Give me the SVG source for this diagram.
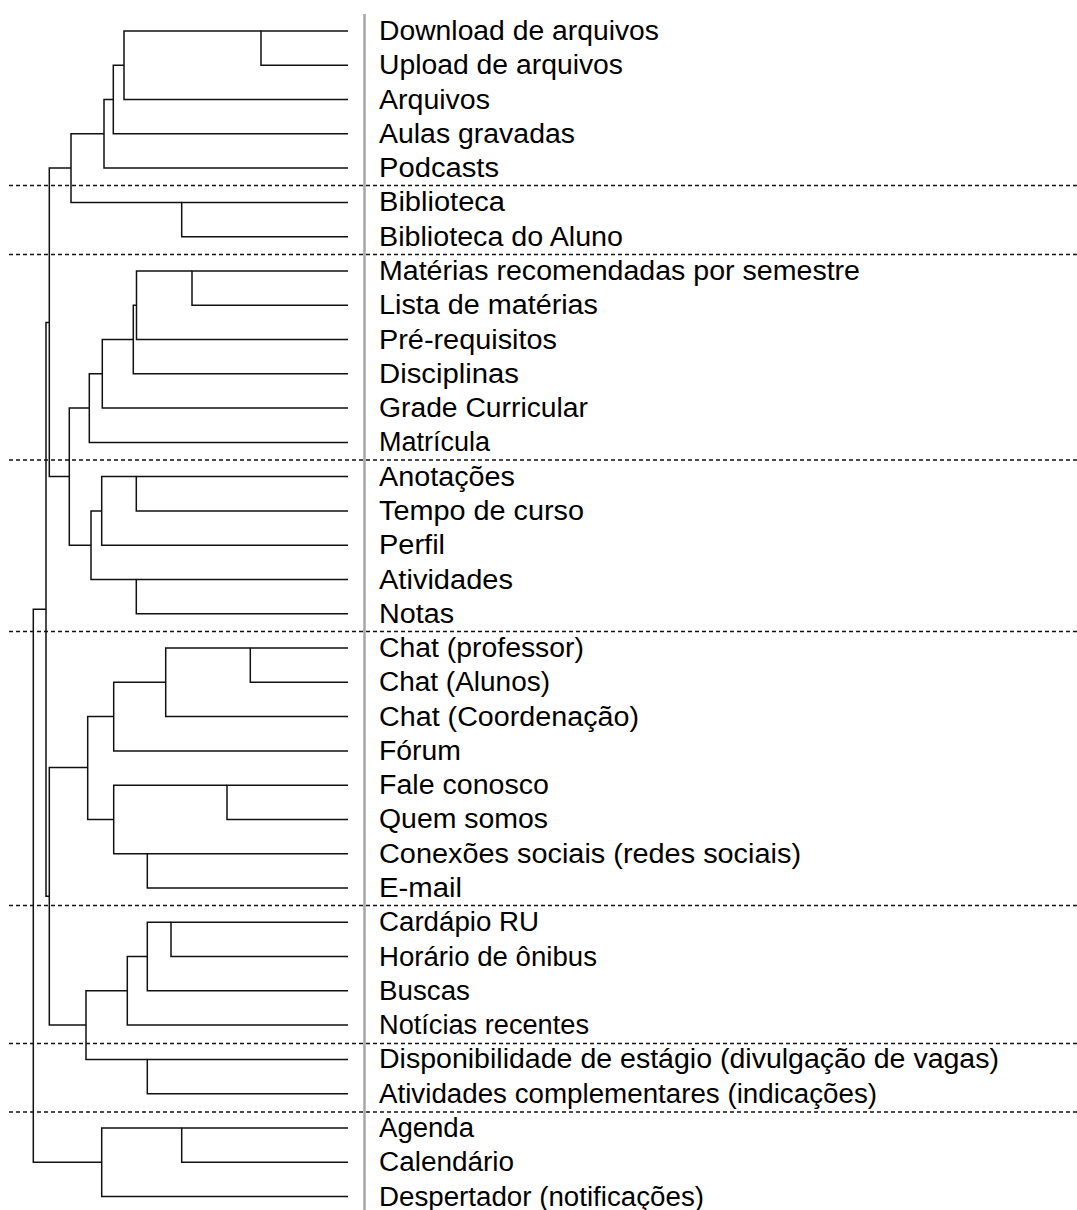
<svg xmlns="http://www.w3.org/2000/svg" width="1077" height="1210" viewBox="0 0 1077 1210">
<style>
.tree{fill:none;stroke:#111;stroke-width:1.5;stroke-linejoin:miter;stroke-linecap:butt}
.dash{stroke:#111;stroke-width:1.5;stroke-dasharray:4 3}
.axis{stroke:#a6a6a6;stroke-width:2.5}
text{font-family:"Liberation Sans",Arial,sans-serif;font-size:27px;fill:#000}
</style>
<rect width="1077" height="1210" fill="#fff"/>
<g id="separators">
<line class="dash" x1="9" y1="185.5" x2="1077" y2="185.5"/>
<line class="dash" x1="9" y1="254.5" x2="1077" y2="254.5"/>
<line class="dash" x1="9" y1="460" x2="1077" y2="460"/>
<line class="dash" x1="9" y1="631.5" x2="1077" y2="631.5"/>
<line class="dash" x1="9" y1="905.5" x2="1077" y2="905.5"/>
<line class="dash" x1="9" y1="1043.5" x2="1077" y2="1043.5"/>
<line class="dash" x1="9" y1="1112" x2="1077" y2="1112"/>
</g>
<line id="axis" class="axis" x1="364.5" y1="14" x2="364.5" y2="1210"/>
<g id="connectors" class="tree">
<path d="M348 31H261V65.3H348"/>
<path d="M261 31H124V99.6H348"/>
<path d="M124 65.3H113.3V133.8H348"/>
<path d="M113.3 99.6H104V168.1H348"/>
<path d="M348 202.4H181.7V236.7H348"/>
<path d="M104 133.8H71V202.4H181.7"/>
<path d="M348 271H192V305.2H348"/>
<path d="M192 271H136.5V339.5H348"/>
<path d="M136.5 305.2H133.3V373.8H348"/>
<path d="M133.3 339.5H102.3V408.1H348"/>
<path d="M102.3 373.8H89.3V442.4H348"/>
<path d="M348 476.6H136.3V510.9H348"/>
<path d="M136.3 476.6H101.7V545.2H348"/>
<path d="M348 579.5H136.3V613.8H348"/>
<path d="M101.7 510.9H91V579.5H136.3"/>
<path d="M89.3 408.1H69.3V545.2H91"/>
<path d="M71 168.1H49.3V476.6H69.3"/>
<path d="M348 648H250.3V682.3H348"/>
<path d="M250.3 648H165.7V716.6H348"/>
<path d="M165.7 682.3H113.7V750.9H348"/>
<path d="M348 785.2H227V819.4H348"/>
<path d="M348 853.7H147.3V888H348"/>
<path d="M227 785.2H113.7V853.7H147.3"/>
<path d="M113.7 716.6H87.7V819.4H113.7"/>
<path d="M348 922.3H171V956.6H348"/>
<path d="M171 922.3H147.3V990.8H348"/>
<path d="M147.3 956.6H127.3V1025.1H348"/>
<path d="M348 1059.4H147.3V1093.7H348"/>
<path d="M127.3 990.8H86V1059.4H147.3"/>
<path d="M87.7 767.5H49.3V1025.1H86"/>
<path d="M49.3 322.4H46V896.3H49.3"/>
<path d="M348 1128H181.7V1162.2H348"/>
<path d="M181.7 1128H101.7V1196.5H348"/>
<path d="M46 609.3H33.3V1162.2H101.7"/>
</g>
<g id="leaf-00"><text x="379" y="40" textLength="280" lengthAdjust="spacingAndGlyphs">Download de arquivos</text></g>
<g id="leaf-01"><text x="379" y="74.3" textLength="244" lengthAdjust="spacingAndGlyphs">Upload de arquivos</text></g>
<g id="leaf-02"><text x="379" y="108.6" textLength="111" lengthAdjust="spacingAndGlyphs">Arquivos</text></g>
<g id="leaf-03"><text x="379" y="142.8" textLength="196" lengthAdjust="spacingAndGlyphs">Aulas gravadas</text></g>
<g id="leaf-04"><text x="379" y="177.1" textLength="120" lengthAdjust="spacingAndGlyphs">Podcasts</text></g>
<g id="leaf-05"><text x="379" y="211.4" textLength="126" lengthAdjust="spacingAndGlyphs">Biblioteca</text></g>
<g id="leaf-06"><text x="379" y="245.7" textLength="244" lengthAdjust="spacingAndGlyphs">Biblioteca do Aluno</text></g>
<g id="leaf-07"><text x="379" y="280" textLength="481" lengthAdjust="spacingAndGlyphs">Matérias recomendadas por semestre</text></g>
<g id="leaf-08"><text x="379" y="314.2" textLength="219" lengthAdjust="spacingAndGlyphs">Lista de matérias</text></g>
<g id="leaf-09"><text x="379" y="348.5" textLength="178" lengthAdjust="spacingAndGlyphs">Pré-requisitos</text></g>
<g id="leaf-10"><text x="379" y="382.8" textLength="140" lengthAdjust="spacingAndGlyphs">Disciplinas</text></g>
<g id="leaf-11"><text x="379" y="417.1" textLength="209" lengthAdjust="spacingAndGlyphs">Grade Curricular</text></g>
<g id="leaf-12"><text x="379" y="451.4" textLength="111" lengthAdjust="spacingAndGlyphs">Matrícula</text></g>
<g id="leaf-13"><text x="379" y="485.6" textLength="136" lengthAdjust="spacingAndGlyphs">Anotações</text></g>
<g id="leaf-14"><text x="379" y="519.9" textLength="205" lengthAdjust="spacingAndGlyphs">Tempo de curso</text></g>
<g id="leaf-15"><text x="379" y="554.2" textLength="66" lengthAdjust="spacingAndGlyphs">Perfil</text></g>
<g id="leaf-16"><text x="379" y="588.5" textLength="134" lengthAdjust="spacingAndGlyphs">Atividades</text></g>
<g id="leaf-17"><text x="379" y="622.8" textLength="75" lengthAdjust="spacingAndGlyphs">Notas</text></g>
<g id="leaf-18"><text x="379" y="657" textLength="205" lengthAdjust="spacingAndGlyphs">Chat (professor)</text></g>
<g id="leaf-19"><text x="379" y="691.3" textLength="171" lengthAdjust="spacingAndGlyphs">Chat (Alunos)</text></g>
<g id="leaf-20"><text x="379" y="725.6" textLength="260" lengthAdjust="spacingAndGlyphs">Chat (Coordenação)</text></g>
<g id="leaf-21"><text x="379" y="759.9" textLength="82" lengthAdjust="spacingAndGlyphs">Fórum</text></g>
<g id="leaf-22"><text x="379" y="794.2" textLength="170" lengthAdjust="spacingAndGlyphs">Fale conosco</text></g>
<g id="leaf-23"><text x="379" y="828.4" textLength="169" lengthAdjust="spacingAndGlyphs">Quem somos</text></g>
<g id="leaf-24"><text x="379" y="862.7" textLength="422" lengthAdjust="spacingAndGlyphs">Conexões sociais (redes sociais)</text></g>
<g id="leaf-25"><text x="379" y="897" textLength="83" lengthAdjust="spacingAndGlyphs">E-mail</text></g>
<g id="leaf-26"><text x="379" y="931.3" textLength="160" lengthAdjust="spacingAndGlyphs">Cardápio RU</text></g>
<g id="leaf-27"><text x="379" y="965.6" textLength="218" lengthAdjust="spacingAndGlyphs">Horário de ônibus</text></g>
<g id="leaf-28"><text x="379" y="999.8" textLength="91" lengthAdjust="spacingAndGlyphs">Buscas</text></g>
<g id="leaf-29"><text x="379" y="1034.1" textLength="210" lengthAdjust="spacingAndGlyphs">Notícias recentes</text></g>
<g id="leaf-30"><text x="379" y="1068.4" textLength="620" lengthAdjust="spacingAndGlyphs">Disponibilidade de estágio (divulgação de vagas)</text></g>
<g id="leaf-31"><text x="379" y="1102.7" textLength="498" lengthAdjust="spacingAndGlyphs">Atividades complementares (indicações)</text></g>
<g id="leaf-32"><text x="379" y="1137" textLength="95" lengthAdjust="spacingAndGlyphs">Agenda</text></g>
<g id="leaf-33"><text x="379" y="1171.2" textLength="135" lengthAdjust="spacingAndGlyphs">Calendário</text></g>
<g id="leaf-34"><text x="379" y="1205.5" textLength="325" lengthAdjust="spacingAndGlyphs">Despertador (notificações)</text></g>
</svg>
